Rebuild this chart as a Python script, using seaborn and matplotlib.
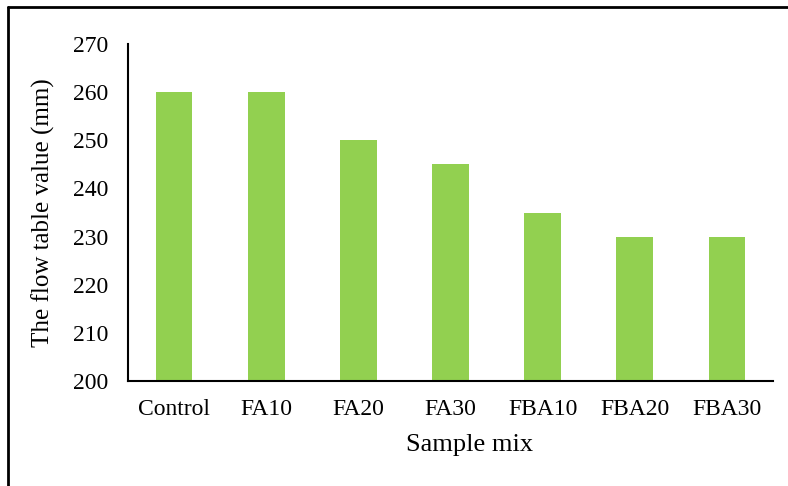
import matplotlib
matplotlib.use("Agg")
import matplotlib.pyplot as plt
from matplotlib.lines import Line2D
import seaborn as sns
import pandas as pd

mixes = ["Control", "FA10", "FA20", "FA30", "FBA10", "FBA20", "FBA30"]
flow_values = [260, 260, 250, 245, 235, 230, 230]
y_ticks = [200, 210, 220, 230, 240, 250, 260, 270]

sns.set_style("white")
plt.rcParams["font.family"] = ["Liberation Serif", "DejaVu Serif"]
plt.rcParams["text.color"] = "black"
plt.rcParams["axes.labelcolor"] = "black"

df = pd.DataFrame({"mix": mixes, "flow": flow_values})

fig = plt.figure(figsize=(7.88, 4.86), dpi=100)
ax = fig.add_axes([0.1624, 0.216, 0.8186, 0.6935])

sns.barplot(data=df, x="mix", y="flow", color="#92D050", width=0.4,
            saturation=1, ax=ax, edgecolor="none")

ax.set_ylim(200, 270)
ax.set_yticks(y_ticks)
ax.set_xlim(-0.5, len(mixes) - 0.5)
ax.tick_params(axis="both", length=0, labelsize=17, colors="black")
ax.tick_params(axis="y", pad=14)
ax.tick_params(axis="x", pad=13)
ax.set_xlabel("Sample mix", fontsize=19, labelpad=10, color="black")
ax.xaxis.label.set_x(0.53)
ax.set_ylabel("The flow table value (mm)", fontsize=18, labelpad=13, color="black")

for side in ["top", "right"]:
    ax.spines[side].set_visible(False)
for side in ["left", "bottom"]:
    ax.spines[side].set_color("black")
    ax.spines[side].set_linewidth(1.5)

# outer frame lines along the top and left of the figure
fig.add_artist(Line2D([0.0105, 1.0], [0.985, 0.985], transform=fig.transFigure,
                      color="black", linewidth=2))
fig.add_artist(Line2D([0.0105, 0.0105], [0.0, 0.985], transform=fig.transFigure,
                      color="black", linewidth=2))

fig.savefig("out.png", dpi=100)
